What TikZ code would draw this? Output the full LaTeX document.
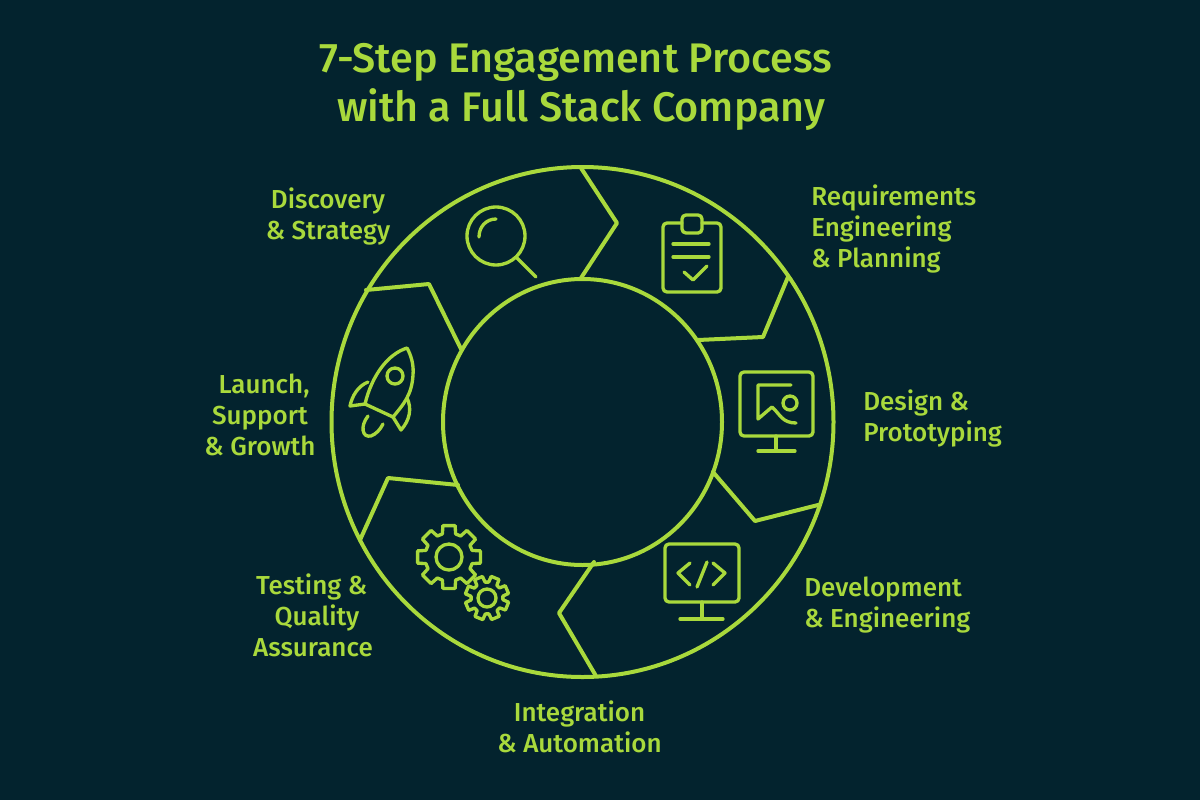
\documentclass[tikz,border=0pt]{standalone}
\usepackage{fontspec}
\setmainfont{Fira Sans Medium}
\definecolor{bgc}{HTML}{03232E}
\definecolor{lime}{HTML}{A9D93C}
\tikzset{
  ring/.style={draw=lime,line width=3pt,line join=round,line cap=round},
  icon/.style={draw=lime,line width=2.5pt,line join=round,line cap=round},
  titletext/.style={text=lime,font=\fontsize{31}{36.75}\selectfont,align=center,inner sep=0pt},
  lab/.style={text=lime,font=\fontsize{19.5}{23.25}\selectfont,inner sep=0pt},
}
\newcommand{\gearicon}[6]{% cx cy rout rroot rot hole
  \draw[icon] \foreach \k in {0,...,7}{
    \ifnum\k=0 ({#1+#4*cos(#5-16+45*\k)},{#2+#4*sin(#5-16+45*\k)})\else -- ({#1+#4*cos(#5-16+45*\k)},{#2+#4*sin(#5-16+45*\k)})\fi
    -- ({#1+#3*cos(#5-11+45*\k)},{#2+#3*sin(#5-11+45*\k)})
    -- ({#1+#3*cos(#5+11+45*\k)},{#2+#3*sin(#5+11+45*\k)})
    -- ({#1+#4*cos(#5+16+45*\k)},{#2+#4*sin(#5+16+45*\k)})
  } -- cycle;
  \draw[icon] (#1,#2) circle (#6);
}
\begin{document}
\begin{tikzpicture}[x=0.75pt,y=-0.75pt]
\useasboundingbox (0,0) rectangle (1200,800);
\fill[bgc] (0,0) rectangle (1200,800);
\draw[ring] (582.5,422) ellipse [x radius=251,y radius=255];
\draw[ring] (582.5,422) ellipse [x radius=139.5,y radius=143];
\draw[ring] (581,168) -- (617,223) -- (581,278);
\draw[ring] (788,277) -- (763,337) -- (698,340);
\draw[ring] (818,505) -- (755,521) -- (713,472);
\draw[ring] (596,676) -- (559,613) -- (594,562);
\draw[ring] (360,540) -- (388,478) -- (458,485);
\draw[ring] (461,349) -- (429,284) -- (366,290);
\draw[icon] (496,236) circle (29);
\draw[icon] (517,258) -- (536,277);
\draw[icon] (479,237) .. controls (479,227) and (486,219) .. (496,219);
\draw[icon,rounded corners=3pt] (682,223) -- (663,223) -- (663,292) -- (721,292) -- (721,223) -- (702,223);
\draw[icon,rounded corners=3pt] (682,215) rectangle (702,233);
\draw[icon] (673,244) -- (709,244);
\draw[icon] (673,257) -- (709,257);
\draw[icon] (684,272) -- (693,280) -- (707,266);
\draw[icon,rounded corners=3pt] (740,372) rectangle (813,436);
\draw[icon] (776,436) -- (776,450);
\draw[icon] (758,451) -- (795,451);
\draw[icon] (791,385) -- (758,385) -- (758,419) -- (772,407) .. controls (780,414) and (782,423) .. (796,423);
\draw[icon] (790,403) circle (7);
\draw[icon,rounded corners=3pt] (665,544) rectangle (739,602);
\draw[icon] (702,602) -- (702,618);
\draw[icon] (680,619) -- (723,619);
\draw[icon] (690,563) -- (678,573) -- (690,585);
\draw[icon] (707,562) -- (697,587);
\draw[icon] (713,563) -- (725,573) -- (713,585);
\gearicon{449}{557}{32}{24}{0}{13}
\gearicon{487}{598}{22}{16}{22}{9}
\draw[icon] (407,348) .. controls (388,354) and (372,375) .. (365,404) -- (393,417) .. controls (403,405) and (412,395) .. (413,375) .. controls (414,365) and (411,355) .. (407,348) -- cycle;
\draw[icon] (395,376) circle (8);
\draw[icon] (368,382) .. controls (358,386) and (352,396) .. (350,406) -- (365,404);
\draw[icon] (407,398) .. controls (412,408) and (410,420) .. (401,430) -- (393,417);
\draw[icon] (368,416) .. controls (360,426) and (362,438) .. (371,436) .. controls (376,434) and (380,430) .. (383,424);
\node[titletext] (title) at (576,87) {7-Step Engagement Process\\\hspace*{8pt}with a Full Stack Company};
\node[lab,align=center] (discovery) at (328,216) {Discovery\\\& Strategy};
\node[lab,align=left,anchor=west] (requirements) at (811,229) {Requirements\\Engineering\\\& Planning};
\node[lab,align=left,anchor=west] (design) at (863,418.5) {Design \&\\Prototyping};
\node[lab,align=left,anchor=west] (development) at (804,605.5) {Development\\\& Engineering};
\node[lab,align=center] (integration) at (579.5,727) {Integration\\\& Automation};
\node[lab,align=center] (testing) at (313,615) {\hspace*{-2pt}Testing \&\\\hspace*{6pt}Quality\\Assurance};
\node[lab,align=center] (launch) at (260,415) {\hspace*{6pt}Launch,\\Support\hspace*{4pt}\\\& Growth};
\end{tikzpicture}
\end{document}
